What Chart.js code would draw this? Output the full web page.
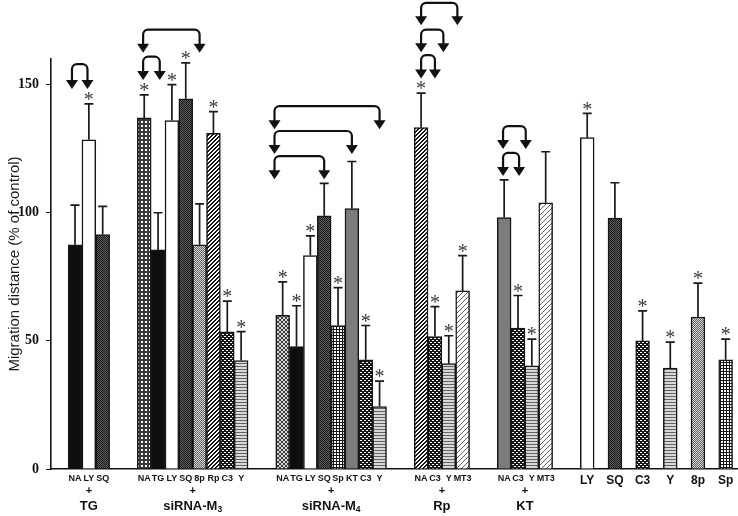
<!DOCTYPE html>
<html><head><meta charset="utf-8">
<script src="https://cdn.jsdelivr.net/npm/chart.js@4.4.1/dist/chart.umd.min.js"></script>
<style>html,body{margin:0;padding:0;background:#fff}#wrap{width:738px;height:516px;position:relative}</style>
</head><body><div id="wrap"><canvas id="c" width="738" height="516"></canvas></div>
<script>
// ---------------- data ----------------
const groupNames = ['TG', 'siRNA-M3', 'siRNA-M4', 'Rp', 'KT', ''];
const groupSizes = [3, 8, 8, 4, 4, 6];
const barLabels = ['NA','LY','SQ', 'NA','TG','LY','SQ','8p','Rp','C3','Y', 'NA','TG','LY','SQ','Sp','KT','C3','Y', 'NA','C3','Y','MT3', 'NA','C3','Y','MT3', 'LY','SQ','C3','Y','8p','Sp'];
const meanValues = [87.5,128.5,91.5, 137,85.5,136,144.5,87.5,131,53.5,42.3, 60,47.8,83.3,98.8,56,101.6,42.6,24.4, 133.2,51.7,41.1,69.5, 98.1,55,40.3,103.9, 129.3,97.9,50,39.4,59.3,42.6];
const errorTops = [103,142.5,102.5, 146,100,150,158.5,103.5,139.5,65.5,53.6, 73,63.7,91,111.5,70.8,120,56,34.3, 146.7,63.4,52,83.3, 112.8,67.7,50.7,123.8, 138.8,111.7,61.7,49.5,72.5,50.7];
const significant = [0,1,0, 1,0,1,1,0,1,1,1, 1,1,1,0,1,0,1,1, 1,1,1,1, 0,1,1,0, 1,0,1,1,1,1];
const yTicks = [0, 50, 100, 150];
// comparison brackets (bar index pairs, heights in % of control)
const bracketFrom = [0, 3, 3, 11, 11, 11, 19, 19, 19, 23, 23];
const bracketTo   = [1, 7, 4, 18, 16, 14, 22, 21, 20, 25, 24];
const bracketTop  = [158, 171.5, 160.9, 141.6, 131.9, 122.1, 181.9, 171.5, 161.5, 133.8, 123.4];
const bracketTip  = [148.3, 162.4, 151.8, 132.6, 122.9, 113.1, 173.2, 162.6, 152.4, 124.9, 114.3];

// ---------------- layout helpers ----------------
const bracketNudge = [[-0.22,-0.1],[-0.08,0],[-0.08,0.12],[-0.59,0],[-0.59,0],[-0.59,0],[0,-0.38],[0,-0.39],[0,0],[-0.08,-0.44],[-0.08,0.08]];
const barX = [], groupIdx = [];
let slot = 0;
groupSizes.forEach((n, g) => {
  const step = groupNames[g] ? 1 : 2;
  for (let i = 0; i < n; i++) { barX.push(slot); groupIdx.push(g); slot += step; }
  slot += 2;
});

function makePattern(rows, pal) {
  const h = rows.length, w = rows[0].length;
  const c = document.createElement('canvas'); c.width = w; c.height = h;
  const g = c.getContext('2d');
  for (let yy = 0; yy < h; yy++) for (let xx = 0; xx < w; xx++) {
    g.fillStyle = pal[rows[yy][xx]]; g.fillRect(xx, yy, 1, 1);
  }
  return document.getElementById('c').getContext('2d').createPattern(c, 'repeat');
}
const P = {'#': '#151515', 'd': '#3a3a3a', 'm': '#626262', 'g': '#9a9a9a', 'l': '#d8d8d8', '.': '#ffffff'};
const fills = {
  'TG': '#0e0e0e',
  'LY': '#ffffff',
  'SQ': makePattern(['#m', 'm#'], P),
  '8p': makePattern(['lm', 'ml'], P),
  'Rp': makePattern(['..##', '.##.', '##..', '#..#'], P),
  'C3': makePattern(['..##', '####', '##..', '####'], P),
  'Y':  makePattern(['m', 'l', 'l'], P),
  'Sp': makePattern(['#..', '#..', '###'], P),
  'KT': '#7c7c7c',
  'MT3': makePattern(['....m', '...m.', '..m..', '.m...', 'm....'], P),
  'siRNA-M3': makePattern(['####', '#..#', '#..#', '####'].map(r => r.replace(/#/g, 'd')), P),
  'siRNA-M4': makePattern(['d..d', '.dd.', '.dd.', 'd..d'].map(r => r.replace(/\./g, 'l')), P)
};
const barFills = barLabels.map((lab, i) => lab === 'NA' ? fills[groupNames[groupIdx[i]]] : fills[lab]);

// ---------------- annotations plugin ----------------
const annot = {
  id: 'annot',
  afterDatasetsDraw(chart) {
    const {ctx, scales: {x, y}} = chart;
    ctx.save();
    ctx.strokeStyle = '#1a1a1a'; ctx.lineWidth = 1.7;
    barX.forEach((bx, i) => {
      const px = x.getPixelForValue(bx);
      const top = y.getPixelForValue(meanValues[i]);
      const et = y.getPixelForValue(errorTops[i]);
      ctx.beginPath();
      ctx.moveTo(px, top); ctx.lineTo(px, et);
      ctx.moveTo(px - 4.5, et); ctx.lineTo(px + 4.5, et);
      ctx.stroke();
      if (significant[i]) {
        ctx.fillStyle = '#3a3a3a';
        ctx.font = '20px "Liberation Serif"';
        ctx.textAlign = 'center'; ctx.textBaseline = 'middle';
        ctx.fillText('*', px, et - 3);
      }
    });
    // brackets
    ctx.strokeStyle = '#111'; ctx.fillStyle = '#111'; ctx.lineWidth = 2.2;
    const r = 5, ah = 9, aw = 6;
    bracketFrom.forEach((f, k) => {
      const x1 = x.getPixelForValue(barX[f] + bracketNudge[k][0]);
      const x2 = x.getPixelForValue(barX[bracketTo[k]] + bracketNudge[k][1]);
      const yt = y.getPixelForValue(bracketTop[k]);
      const yp = y.getPixelForValue(bracketTip[k]);
      ctx.beginPath();
      ctx.moveTo(x1, yp - ah + 1); ctx.lineTo(x1, yt + r);
      ctx.arcTo(x1, yt, x1 + r, yt, r);
      ctx.lineTo(x2 - r, yt);
      ctx.arcTo(x2, yt, x2, yt + r, r);
      ctx.lineTo(x2, yp - ah + 1);
      ctx.stroke();
      [x1, x2].forEach(ax => {
        ctx.beginPath();
        ctx.moveTo(ax - aw, yp - ah); ctx.lineTo(ax + aw, yp - ah); ctx.lineTo(ax, yp);
        ctx.closePath(); ctx.fill();
      });
    });
    ctx.restore();
  },
  afterDraw(chart) {
    const {ctx, scales: {x}} = chart;
    ctx.save();
    ctx.fillStyle = '#111'; ctx.textAlign = 'center'; ctx.textBaseline = 'middle';
    groupNames.forEach((name, g) => {
      if (!name) return;
      const idx = groupIdx.map((gi, i) => gi === g ? i : -1).filter(i => i >= 0);
      const cx = (x.getPixelForValue(barX[idx[0]]) + x.getPixelForValue(barX[idx[idx.length - 1]])) / 2;
      ctx.font = 'bold 11px "Liberation Sans"';
      ctx.textAlign = 'center';
      ctx.fillText('+', cx, 491);
      const m = name.match(/^(.*M)(\d)$/);
      ctx.font = 'bold 13px "Liberation Sans"';
      if (m) {
        const w1 = ctx.measureText(m[1]).width;
        ctx.font = 'bold 8.5px "Liberation Sans"';
        const w2 = ctx.measureText(m[2]).width;
        const sx = cx - (w1 + w2) / 2;
        ctx.textAlign = 'left';
        ctx.font = 'bold 13px "Liberation Sans"';
        ctx.fillText(m[1], sx, 506);
        ctx.font = 'bold 8.5px "Liberation Sans"';
        ctx.fillText(m[2], sx + w1, 510);
      } else {
        ctx.fillText(name, cx, 506);
      }
    });
    ctx.restore();
  }
};

// ---------------- chart ----------------
new Chart(document.getElementById('c'), {
  type: 'bar',
  data: {
    datasets: [{
      data: barX.map((bx, i) => ({x: bx, y: meanValues[i]})),
      backgroundColor: barFills,
      borderColor: '#161616',
      borderWidth: 1.5,
      barPercentage: 1,
      categoryPercentage: 1
    }]
  },
  options: {
    responsive: false, animation: false, devicePixelRatio: 1,
    layout: {padding: {top: 59, right: 1, left: 0, bottom: 0}},
    plugins: {legend: {display: false}, tooltip: {enabled: false}},
    scales: {
      x: {
        type: 'linear', min: -1.735, max: 47.82, offset: false,
        grid: {display: false, drawTicks: false},
        border: {display: true, color: '#111', width: 1.6},
        afterBuildTicks: s => { s.ticks = barX.map(v => ({value: v})); },
        afterFit: s => { s.height = 47; },
        ticks: {
          autoSkip: false, maxRotation: 0, minRotation: 0, padding: 4, color: '#111',
          callback: (v, i) => barLabels[i],
          font: c => (groupNames[groupIdx[c.index]] ?
            {family: 'Liberation Sans', weight: 'bold', size: 9} :
            {family: 'Liberation Sans', weight: 'bold', size: 12})
        }
      },
      y: {
        min: 0, max: 160,
        afterBuildTicks: s => { s.ticks = yTicks.map(v => ({value: v})); },
        afterFit: s => { s.width = 51; },
        grid: {drawOnChartArea: false, drawTicks: true, tickLength: 5, color: '#111'},
        border: {display: true, color: '#111', width: 1.6},
        ticks: {font: {family: 'Liberation Serif', weight: 'bold', size: 14}, color: '#111', padding: 7},
        title: {display: true, text: 'Migration distance (% of control)', color: '#1a1a1a',
          font: {family: 'Liberation Sans', size: 15}, padding: {top: 6, bottom: 0}}
      }
    }
  },
  plugins: [annot]
});
</script></body></html>
